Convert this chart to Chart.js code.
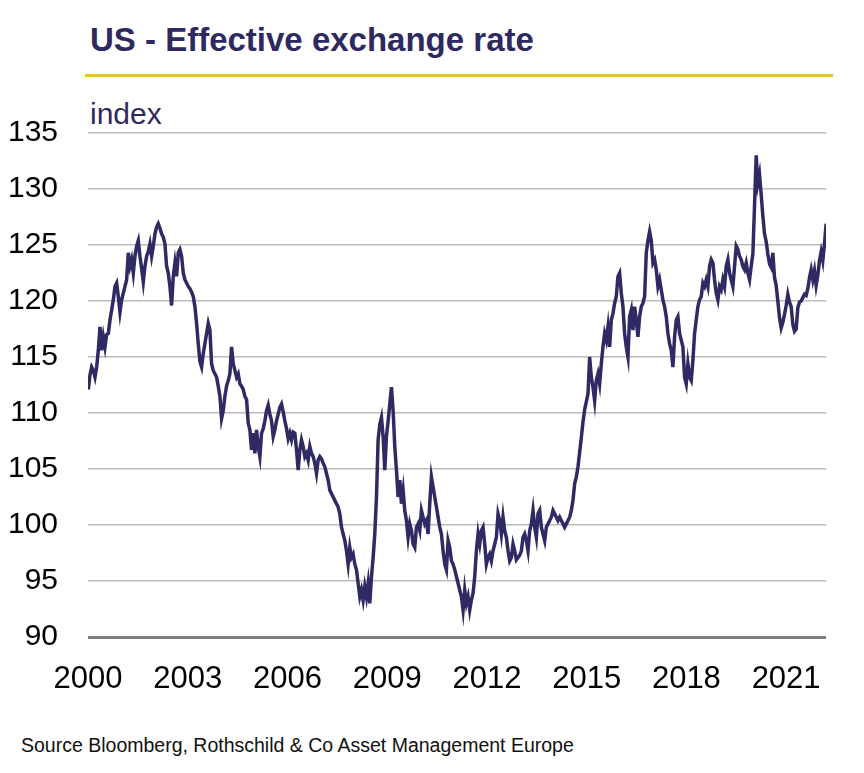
<!DOCTYPE html>
<html>
<head>
<meta charset="utf-8">
<script src="https://cdn.jsdelivr.net/npm/chart.js@4.4.1/dist/chart.umd.min.js"></script>
<style>
  html, body { margin: 0; padding: 0; background: #ffffff; }
  body { width: 864px; height: 773px; position: relative; overflow: hidden; font-family: "Liberation Sans", Arial, sans-serif; }
  .txt { position: absolute; white-space: nowrap; line-height: 1; }
  #title { left: 90px; top: 23px; font-size: 33px; font-weight: bold; color: #2e2a5f; }
  #rule { position: absolute; left: 85px; top: 74px; width: 748px; height: 3px; background: #e5c23e; }
  #unit { left: 90px; top: 99px; font-size: 30px; color: #2e2a5f; }
  #source { left: 21px; top: 736px; font-size: 19.5px; color: #111111; }
  #wrap { position: absolute; left: 0; top: 100px; width: 864px; height: 600px; }
</style>
</head>
<body>
<div id="title" class="txt">US - Effective exchange rate</div>
<div id="rule"></div>
<div id="unit" class="txt">index</div>
<div id="wrap"><canvas id="c"></canvas></div>
<div id="source" class="txt">Source Bloomberg, Rothschild &amp; Co Asset Management Europe</div>
<script>
// Sampling grid: first observation and spacing (in years, ~18 days)
const startYear = 2000.01;
const stepYears = 0.0501;

// Index values, by period
const values2000_2004 = [
  112.1,113.4,114.1,113.8,113.2,114.1,115.6,117.7,115.6,116.8,115.9,117.0,117.1,118.3,119.2,120.1,
  121.3,121.6,120.4,119.0,120.1,120.7,121.3,121.9,124.3,123.1,123.7,122.5,124.0,124.9,125.4,124.0,
  122.9,121.7,123.1,124.0,124.4,125.1,124.0,124.9,126.0,126.6,126.9,126.5,126.0,125.7,125.1,123.1,
  122.5,121.3,119.6,122.2,123.4,122.2,124.3,124.6,124.0,122.5,121.9,121.6,121.3,121.1,120.8,120.4,
  119.5,118.0,116.2,114.6,114.1,115.3,116.2,117.1,118.0,117.4,114.4,113.8,113.5,113.2,112.4,111.5,
  109.5,110.2,111.5,112.4,112.9,113.5,115.9,114.4,113.8,113.2,113.5,112.6,112.4,112.1,111.5,111.2,
  109.1
];
const values2005_2009 = [
  108.5,106.7,108.2,106.4,108.5,107.0,106.1,108.2,108.6,109.3,110.2,110.7,109.9,109.3,107.9,108.5,
  109.3,109.9,110.5,110.8,110.1,109.3,108.6,107.7,108.2,107.6,108.3,108.2,106.7,104.9,106.7,107.6,
  107.0,106.1,106.4,105.8,107.0,106.4,106.1,105.5,104.6,105.8,106.1,105.9,105.5,105.2,104.6,104.0,
  103.1,102.8,102.5,102.2,101.9,101.6,101.0,99.8,99.2,98.6,97.7,96.5,98.0,97.1,97.4,96.5,
  96.0,94.8,93.6,94.2,93.3,94.5,93.6,94.8,93.0,95.4,97.1,99.2,102.5,107.6,109.0,109.6,
  107.9,104.9,107.9,109.3,110.8,112.3,110.2,107.0,104.9,102.5,104.0,101.9,103.1,101.3,100.4,98.9,
  100.1,99.5,98.3
];
const values2010_2014 = [
  98.0,99.8,100.1,99.5,101.3,100.7,100.1,100.4,99.2,101.9,104.3,103.4,102.5,101.6,100.7,99.8,
  99.2,97.7,96.5,96.0,98.6,98.0,96.8,96.5,96.0,95.4,94.8,94.2,93.6,92.4,94.2,93.0,
  93.6,92.4,93.3,93.9,95.4,97.7,99.2,98.3,99.5,99.8,98.3,96.5,97.1,97.4,96.8,97.7,
  98.3,98.9,101.0,100.4,99.2,100.7,99.5,98.9,97.7,96.8,97.1,98.3,97.7,96.9,97.1,97.3,
  97.7,98.9,99.2,98.6,97.7,99.5,100.1,101.3,99.8,98.9,101.0,101.3,99.8,99.2,98.6,99.8,
  100.1,100.4,100.7,101.3,101.0,100.7,100.4,100.7,100.4,100.1,99.8,100.1,100.4,100.7,101.3,102.2,
  103.7,104.3,105.2
];
const values2015_2019 = [
  106.5,107.8,109.2,110.3,111.0,111.7,115.0,113.2,112.3,111.1,112.9,113.5,112.6,114.4,115.9,117.1,
  116.5,117.7,115.9,118.3,118.9,119.8,120.4,122.2,122.5,120.7,119.5,117.1,115.9,115.0,118.6,119.2,
  117.4,119.5,118.3,116.8,118.6,119.5,119.8,120.4,124.3,125.4,126.2,125.4,123.4,123.7,122.8,121.3,
  121.9,121.0,120.1,119.5,118.6,117.1,116.2,115.6,114.1,116.8,118.3,118.6,117.1,116.5,115.9,113.2,
  112.6,114.4,113.2,112.9,114.7,117.1,118.3,119.5,120.1,120.4,121.6,121.3,121.9,121.3,123.1,123.7,
  123.4,121.9,120.7,120.1,121.3,121.0,121.9,121.3,123.1,123.7,122.5,121.9,121.3,123.1,124.9,124.6,
  124.0,123.7,123.1,122.8,123.4,122.5,121.9,123.1
];
const values2020_2022 = [
  124.2,128.5,133.0,130.5,131.3,129.5,127.6,126.0,125.3,124.2,123.3,123.0,124.3,122.1,121.4,120.0,
  118.5,117.6,118.1,118.8,119.6,120.6,119.9,119.5,117.9,117.3,117.5,119.4,119.9,120.0,120.3,120.6,
  120.5,121.1,122.1,122.8,121.9,122.7,121.4,122.3,123.6,124.4,123.6,125.1,126.9
];

const yTicks = [90, 95, 100, 105, 110, 115, 120, 125, 130, 135];
const xTickYears = [2000, 2003, 2006, 2009, 2012, 2015, 2018, 2021];

const values = [].concat(values2000_2004, values2005_2009, values2010_2014, values2015_2019, values2020_2022);
const points = values.map((v, i) => ({ x: startYear + i * stepYears, y: v }));

const navy = '#2f2a63';

new Chart(document.getElementById('c'), {
  type: 'line',
  data: {
    datasets: [{
      data: points,
      borderColor: navy,
      borderWidth: 3.5,
      pointRadius: 0,
      tension: 0,
      fill: false
    }]
  },
  options: {
    responsive: true,
    maintainAspectRatio: false,
    animation: false,
    layout: { padding: { left: 0, right: 38, top: 33, bottom: 0 } },
    plugins: { legend: { display: false }, tooltip: { enabled: false } },
    scales: {
      x: {
        type: 'linear',
        min: 2000,
        max: 2022.2,
        afterBuildTicks: (s) => { s.ticks = xTickYears.map(v => ({ value: v })); },
        afterFit: (s) => { s.height = 63; s.paddingLeft = 0; s.paddingRight = 0; },
        grid: { display: false, drawTicks: false },
        border: { display: false },
        ticks: {
          color: '#000000',
          font: { family: '"Liberation Sans", Arial, sans-serif', size: 31 },
          padding: 24,
          maxRotation: 0,
          autoSkip: false,
          callback: (v) => String(v)
        }
      },
      y: {
        min: 90,
        max: 135,
        afterBuildTicks: (s) => { s.ticks = yTicks.map(v => ({ value: v })); },
        afterFit: (s) => { s.width = 88; s.paddingTop = 0; s.paddingBottom = 0; },
        grid: {
          drawTicks: false,
          color: (ctx) => ctx.tick && ctx.tick.value === 90 ? '#7f7f7f' : '#bcbcbc',
          lineWidth: (ctx) => ctx.tick && ctx.tick.value === 90 ? 3 : 1.5
        },
        border: { display: false },
        ticks: {
          color: '#000000',
          font: { family: '"Liberation Sans", Arial, sans-serif', size: 30 },
          padding: 30,
          autoSkip: false
        }
      }
    }
  }
});
</script>
</body>
</html>
